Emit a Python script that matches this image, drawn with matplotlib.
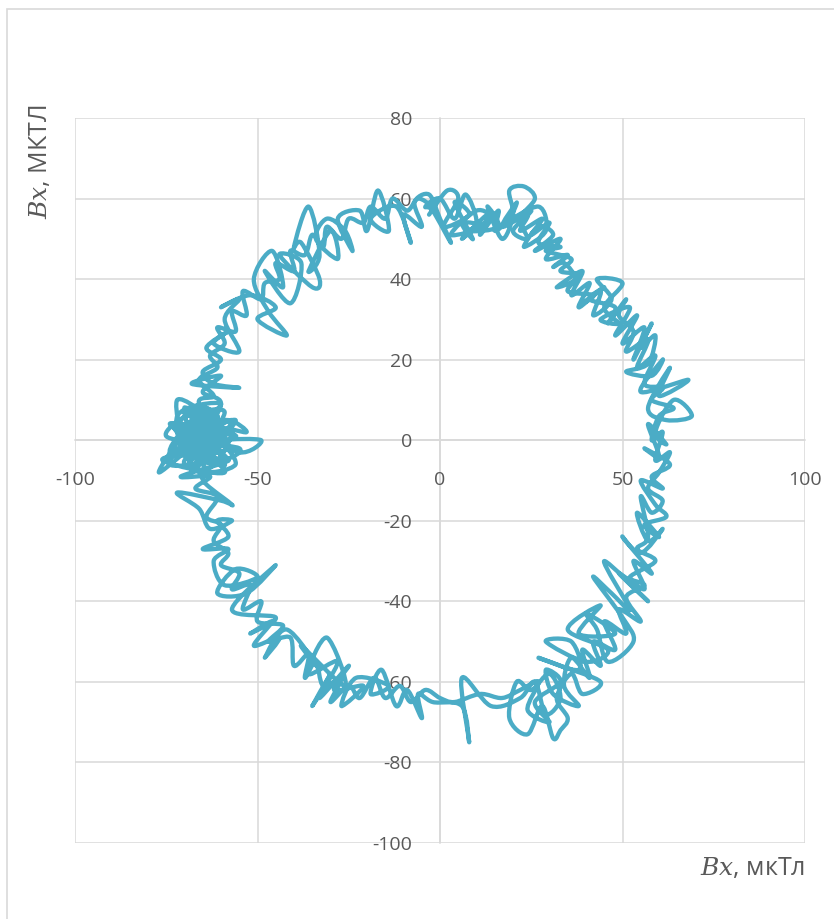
import matplotlib
matplotlib.use("Agg")
import matplotlib.pyplot as plt
from matplotlib.patches import Rectangle, PathPatch
from matplotlib.path import Path

# ---- data, (Bx, By) pairs, path clockwise from the top ----
top_pts = [(-3, 56), (2, 62), (5, 60), (1, 53), (8, 56), (4, 59), (9, 50), (6, 54), (12, 53),
           (3, 51), (10, 57), (14, 55), (8, 52), (16, 53), (13, 58), (17, 50), (20, 56), (19, 62),
           (23, 63), (26, 60), (22, 55), (24, 50), (20, 52), (25, 57), (18, 54), (27, 58), (29, 52),
           (23, 48), (27, 53), (31, 51), (26, 47), (33, 50), (29, 45), (35, 46), (31, 43)]

right_pts = [(34, 44), (37, 40), (32, 38), (39, 42), (36, 36), (41, 39), (38, 33), (44, 37),
             (42, 31), (47, 35), (43, 40), (50, 39), (45, 33), (49, 29), (44, 30), (52, 33),
             (48, 26), (54, 31), (50, 24), (56, 28), (53, 20), (58, 29), (55, 23), (59, 26),
             (57, 19), (51, 17), (58, 16), (61, 20), (55, 12), (68, 15), (60, 11), (63, 18),
             (57, 8), (62, 5), (69, 6), (64, 10), (59, 2), (62, -1), (57, 4), (60, -4), (56, -2),
             (63, -6), (58, -9), (61, -12), (55, -10), (59, -16), (62, -19), (56, -21), (60, -24),
             (54, -18)]

lowright_pts = [(57, -25), (61, -22), (55, -28), (50, -24), (58, -33), (53, -30), (56, -37),
                (49, -33), (57, -40), (45, -30), (52, -42), (47, -38), (42, -34), (50, -44),
                (53, -50), (46, -55), (43, -47), (40, -43), (48, -48), (38, -48), (44, -41),
                (35, -47), (46, -52), (40, -55), (29, -50), (36, -50), (38, -57), (27, -54),
                (33, -56), (44, -60), (39, -63), (36, -58), (32, -64), (35, -69), (33, -72),
                (31, -74), (28, -66), (24, -73), (19, -69), (21, -60), (25, -62), (30, -58),
                (33, -64), (29, -68), (26, -60), (22, -64), (14, -66), (6, -59), (8, -75),
                (6, -66), (-2, -65), (-6, -63)]

lowleft_pts = [(-5, -69), (-9, -62), (-12, -66), (-16, -57), (-19, -63), (-14, -61), (-23, -59),
               (-27, -66), (-21, -61), (-29, -62), (-25, -56), (-33, -64), (-30, -58), (-35, -66),
               (-28, -55), (-36, -58), (-31, -49), (-26, -61), (-38, -51), (-33, -57), (-42, -47),
               (-48, -54), (-44, -49), (-51, -51), (-46, -45), (-52, -48), (-45, -44), (-57, -42),
               (-45, -31), (-53, -38), (-61, -38), (-56, -32), (-50, -34), (-59, -36), (-62, -30),
               (-58, -27), (-65, -27), (-58, -24), (-61, -20), (-57, -20), (-63, -22), (-66, -17),
               (-72, -13), (-60, -15), (-57, -16), (-64, -11), (-66, -8)]

cluster_pts = [(-70, -5), (-60, 3), (-72, 2), (-62, -6), (-68, 6), (-58, -2), (-74, -3), (-64, 8),
               (-66, -4), (-56, 5), (-70, 0), (-61, -3), (-67, 4), (-77, -8), (-63, 2), (-69, -6),
               (-59, 7), (-71, 5), (-65, -2), (-60, 0), (-49, 0), (-55, -3), (-66, 3), (-73, -1),
               (-62, 5), (-68, -3), (-57, 2), (-64, -7), (-70, 7), (-63, 0), (-58, -5), (-67, 1),
               (-65, -5), (-61, 6), (-69, 2), (-63, -4), (-66, 6), (-71, -2), (-60, -1), (-64, 4),
               (-68, -1), (-62, 1), (-74, 4), (-59, -6), (-67, -2), (-63, 7), (-66, -1), (-61, 3),
               (-53, 2), (-58, 5), (-65, 3), (-69, -4), (-72, 10), (-62, 4), (-66, -1), (-60, 9),
               (-65, 12), (-60, 16), (-68, 14), (-55, 13), (-62, 14), (-65, 17)]

upleft_pts = [(-60, 20), (-64, 23), (-58, 27), (-62, 24), (-55, 22), (-59, 30), (-55, 35),
              (-60, 33), (-52, 36), (-45, 33), (-50, 30), (-42, 26), (-47, 32), (-51, 40),
              (-46, 47), (-43, 38), (-48, 42), (-41, 34), (-38, 44), (-44, 46), (-35, 38),
              (-33, 40), (-38, 49), (-40, 48), (-36, 58), (-33, 46), (-36, 42), (-30, 52),
              (-28, 45), (-34, 50), (-31, 55), (-26, 52), (-24, 47), (-28, 55), (-22, 57),
              (-20, 52), (-17, 62), (-14, 52), (-19, 55), (-12, 58), (-8, 49), (-10, 56), (-5, 53),
              (-7, 59), (-3, 61), (0, 55), (3, 49), (-2, 57)]

top2_pts = [(-4, 58), (0, 60), (4, 55), (7, 61), (10, 54), (6, 50), (13, 56), (11, 51), (16, 57),
            (15, 52), (19, 55), (21, 59), (17, 53), (24, 56), (22, 52), (28, 55), (25, 51),
            (30, 54), (27, 49), (33, 48), (29, 47), (36, 45), (33, 42)]

right2_pts = [(38, 41), (35, 37), (42, 36), (39, 34), (45, 38), (41, 35), (48, 33), (46, 29),
              (51, 35), (49, 31), (53, 27), (51, 22), (57, 25), (54, 18), (59, 21), (56, 14),
              (61, 13), (58, 10), (64, 8), (60, 6), (58, 0), (61, 2), (59, -5), (63, -3), (60, -8),
              (57, -12), (61, -15), (58, -18), (55, -14), (57, -24)]

lowright2_pts = [(54, -27), (59, -30), (52, -34), (56, -36), (51, -39), (55, -45), (49, -42),
                 (51, -48), (45, -45), (48, -52), (42, -50), (44, -56), (39, -52), (41, -59),
                 (36, -54), (34, -61), (38, -66), (31, -63), (29, -57), (33, -60), (26, -65),
                 (30, -70), (24, -67), (27, -60), (22, -62), (17, -64), (11, -63), (4, -65),
                 (0, -64)]

lowleft2_pts = [(-4, -62), (-8, -65), (-11, -61), (-15, -64), (-18, -59), (-22, -64), (-25, -61),
                (-30, -65), (-27, -59), (-32, -61), (-34, -55), (-37, -59), (-36, -53), (-40, -56),
                (-41, -49), (-47, -50), (-43, -46), (-50, -45), (-49, -40), (-54, -42), (-52, -36),
                (-57, -37), (-55, -33), (-60, -31), (-58, -28), (-62, -25), (-60, -21), (-64, -19),
                (-61, -14), (-67, -12), (-63, -9)]

cluster2_pts = [(-71, -9), (-58, -5), (-74, -6), (-65, 3), (-56, 1), (-73, 4), (-63, -5), (-55, -2),
                (-75, 1), (-64, 8), (-59, -1), (-71, -1), (-61, 6), (-68, -8), (-57, 5), (-73, -4),
                (-63, 1), (-56, -6), (-67, -7), (-72, 6), (-60, 9), (-68, 1), (-59, -8), (-76, -5),
                (-66, -2), (-61, 3), (-70, 8), (-57, -3), (-66, 9), (-62, 11), (-66, 15), (-61, 18)]

upleft2_pts = [(-63, 21), (-59, 24), (-61, 28), (-56, 27), (-57, 32), (-53, 31), (-54, 37),
               (-49, 35), (-48, 39), (-44, 40), (-45, 44), (-40, 42), (-41, 47), (-37, 46),
               (-35, 51), (-32, 48), (-31, 53), (-27, 50), (-25, 55), (-21, 54), (-19, 58),
               (-15, 55), (-13, 60), (-9, 57), (-6, 60), (-2, 58)]

path_pts = (top_pts + right_pts + lowright_pts + lowleft_pts + cluster_pts + upleft_pts +
            top2_pts + right2_pts + lowright2_pts + lowleft2_pts + cluster2_pts + upleft2_pts)
bx = [p[0] for p in path_pts]
by = [p[1] for p in path_pts]

x_ticks = [-100, -50, 0, 50, 100]
y_ticks = [-100, -80, -60, -40, -20, 0, 20, 40, 60, 80]

# ---- styling ----
plt.rcParams['font.family'] = ['Open Sans', 'DejaVu Sans']
plt.rcParams['mathtext.fontset'] = 'dejavuserif'
grey_txt = '#595959'
grid_c = '#d9d9d9'
line_c = '#4BACC6'

fig = plt.figure(figsize=(8.34, 9.19), dpi=100)
fig.patches.append(Rectangle((7/834, -0.1), 1.2, 1 - 9/919 + 0.1, transform=fig.transFigure,
                             fill=False, edgecolor='#d9d9d9', linewidth=1.2))
ax = fig.add_axes([75/834, 1 - 843/919, 730/834, 725/919])

# smoothed scatter line (Excel-style smoothing: cubic Bezier through each data point)
n = len(bx)
verts = [(bx[0], by[0])]
codes = [Path.MOVETO]
for i in range(n - 1):
    i0 = max(i - 1, 0)
    i3 = min(i + 2, n - 1)
    c1 = (bx[i] + (bx[i + 1] - bx[i0]) / 6.0, by[i] + (by[i + 1] - by[i0]) / 6.0)
    c2 = (bx[i + 1] - (bx[i3] - bx[i]) / 6.0, by[i + 1] - (by[i3] - by[i]) / 6.0)
    verts += [c1, c2, (bx[i + 1], by[i + 1])]
    codes += [Path.CURVE4, Path.CURVE4, Path.CURVE4]
ax.add_patch(PathPatch(Path(verts, codes), facecolor='none', edgecolor=line_c, linewidth=3.1,
                       joinstyle='round', capstyle='round', zorder=3))

ax.set_xlim(-100, 100)
ax.set_ylim(-100, 80)
ax.set_xticks(x_ticks)
ax.set_yticks(y_ticks)
ax.grid(True, color=grid_c, linewidth=1.1, zorder=0)
ax.set_axisbelow(True)

for s in ['top', 'right']:
    ax.spines[s].set_visible(False)
ax.spines['left'].set_position('zero')
ax.spines['bottom'].set_position('zero')
for s in ['left', 'bottom']:
    ax.spines[s].set_color(grid_c)
    ax.spines[s].set_linewidth(1.1)
    ax.spines[s].set_zorder(0)

ax.tick_params(axis='both', length=0, labelsize=14, labelcolor=grey_txt)
ax.tick_params(axis='y', pad=20)
ax.tick_params(axis='x', pad=22)
ax.set_xticklabels([str(t) for t in x_ticks])
ax.set_yticklabels([str(t) for t in y_ticks])

fig.text(805/834, 1 - 868/919, r'$Bx$, мкТл', ha='right', va='center', fontsize=18,
         color=grey_txt)
fig.text(40/834, 1 - 162/919, r'$Bx$, МКТЛ', ha='center', va='center', rotation=90,
         fontsize=18, color=grey_txt)

fig.savefig('out.png', dpi=100)
